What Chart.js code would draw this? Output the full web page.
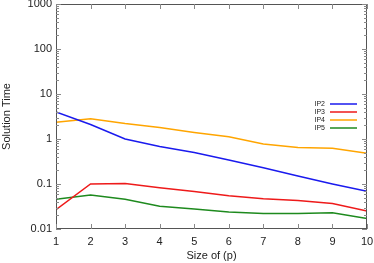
<!DOCTYPE html>
<html>
<head>
<meta charset="utf-8">
<script src="https://cdn.jsdelivr.net/npm/chart.js@4/dist/chart.umd.min.js"></script>
<style>
  html, body { margin: 0; padding: 0; background: #fff; }
  #wrap { width: 374px; height: 263px; }
</style>
</head>
<body>
<div id="wrap"><canvas id="chart"></canvas></div>
<script>
const sizes = [1, 2, 3, 4, 5, 6, 7, 8, 9, 10];
const ip2 = [4.0, 2.1, 1.0, 0.68, 0.5, 0.34, 0.23, 0.15, 0.10, 0.069];
const ip3 = [0.027, 0.10, 0.103, 0.083, 0.068, 0.055, 0.047, 0.043, 0.037, 0.025];
const ip4 = [2.35, 2.8, 2.2, 1.8, 1.4, 1.12, 0.77, 0.65, 0.62, 0.48];
const ip5 = [0.046, 0.057, 0.046, 0.032, 0.028, 0.024, 0.022, 0.022, 0.023, 0.017];
const yTicks = [0.01, 0.1, 1, 10, 100, 1000];
const seriesNames = ["IP2", "IP3", "IP4", "IP5"];
const seriesColors = ["#1a1aee", "#ee1a1a", "#ffa500", "#1e8a1e"];

const FONT = "'Liberation Sans', Arial, sans-serif";
const TEXT = "#222";

const toPoints = arr => arr.map((v, i) => ({ x: sizes[i], y: v }));

// box border + inward tick marks, gnuplot style
const boxPlugin = {
  id: "box",
  afterDraw(chart) {
    const { ctx, chartArea: a, scales } = chart;
    ctx.save();
    ctx.strokeStyle = "#555";
    ctx.lineWidth = 1;
    ctx.strokeRect(a.left + 0.5, a.top + 0.5, a.right - a.left - 1, a.bottom - a.top - 1);
    ctx.strokeStyle = "#888";
    ctx.beginPath();
    sizes.forEach(v => {
      const x = Math.round(scales.x.getPixelForValue(v)) + 0.5;
      ctx.moveTo(x, a.bottom); ctx.lineTo(x, a.bottom - 5);
      ctx.moveTo(x, a.top); ctx.lineTo(x, a.top + 5);
    });
    yTicks.forEach(v => {
      const y = Math.round(scales.y.getPixelForValue(v)) + 0.5;
      ctx.moveTo(a.left, y); ctx.lineTo(a.left + 5, y);
      ctx.moveTo(a.right, y); ctx.lineTo(a.right - 5, y);
    });
    // minor ticks
    for (let d = 0; d < yTicks.length - 1; d++) {
      for (let m = 2; m <= 9; m++) {
        const y = Math.round(scales.y.getPixelForValue(yTicks[d] * m)) + 0.5;
        ctx.moveTo(a.left, y); ctx.lineTo(a.left + 3, y);
        ctx.moveTo(a.right, y); ctx.lineTo(a.right - 3, y);
      }
    }
    ctx.stroke();
    ctx.restore();
  }
};

// small legend inside at right
const legendPlugin = {
  id: "keybox",
  afterDraw(chart) {
    const { ctx, chartArea: a } = chart;
    ctx.save();
    ctx.font = "7px " + FONT;
    ctx.fillStyle = TEXT;
    ctx.textAlign = "right";
    ctx.textBaseline = "middle";
    chart.data.datasets.forEach((ds, i) => {
      const y = 104 + i * 8;
      ctx.fillText(ds.label, a.right - 42, y);
      ctx.strokeStyle = ds.borderColor;
      ctx.lineWidth = 1.5;
      ctx.beginPath();
      ctx.moveTo(a.right - 37, y);
      ctx.lineTo(a.right - 10, y);
      ctx.stroke();
    });
    ctx.restore();
  }
};

const data = [ip2, ip3, ip4, ip5];

new Chart(document.getElementById("chart"), {
  type: "line",
  data: {
    datasets: data.map((arr, i) => ({
      label: seriesNames[i],
      data: toPoints(arr),
      borderColor: seriesColors[i],
      backgroundColor: seriesColors[i],
      borderWidth: 1.5,
      pointRadius: 0,
      tension: 0
    }))
  },
  options: {
    responsive: true,
    maintainAspectRatio: false,
    animation: false,
    layout: { padding: { top: 4, right: 7, left: 0, bottom: 0 } },
    plugins: { legend: { display: false }, tooltip: { enabled: false } },
    scales: {
      x: {
        type: "linear",
        min: 1,
        max: 10,
        afterBuildTicks: s => { s.ticks = sizes.map(v => ({ value: v })); },
        afterFit: s => { s.height = 34; s.paddingLeft = 0; s.paddingRight = 0; },
        grid: { display: false, drawTicks: false },
        border: { display: false },
        ticks: { color: TEXT, font: { family: FONT, size: 11 }, padding: 6, maxRotation: 0 },
        title: { display: true, text: "Size of (p)", color: TEXT, font: { family: FONT, size: 11 }, padding: { top: 0, bottom: 0 } }
      },
      y: {
        type: "logarithmic",
        min: 0.01,
        max: 1000,
        afterBuildTicks: s => { s.ticks = yTicks.map(v => ({ value: v })); },
        afterFit: s => { s.width = 56; s.paddingTop = 0; s.paddingBottom = 0; },
        grid: { display: false, drawTicks: false },
        border: { display: false },
        ticks: {
          color: TEXT,
          font: { family: FONT, size: 11 },
          padding: 4,
          callback: v => String(v)
        },
        title: { display: true, text: "Solution Time", color: TEXT, font: { family: FONT, size: 11 }, padding: { top: 0, bottom: 0 } }
      }
    }
  },
  plugins: [boxPlugin, legendPlugin]
});
</script>
</body>
</html>
